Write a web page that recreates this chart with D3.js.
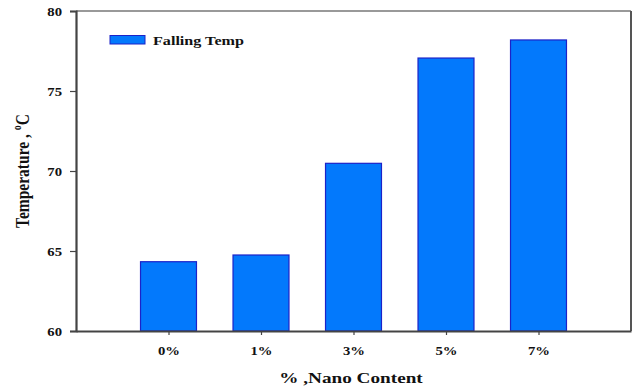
<!DOCTYPE html>
<html>
<head>
<meta charset="utf-8">
<script src="https://cdn.jsdelivr.net/npm/d3@7"></script>
<style>
  html, body { margin: 0; padding: 0; background: #fff; }
  svg { display: block; }
  text { font-family: "Liberation Serif", "Times New Roman", serif; font-weight: bold; fill: #111; }
</style>
</head>
<body>
<svg id="chart" width="634" height="391"></svg>
<script>
// Falling temperature by nano content
const categories = ["0%", "1%", "3%", "5%", "7%"];
const fallingTemp = [64.33, 64.75, 70.48, 77.06, 78.19];
const yTicks = [60, 65, 70, 75, 80];
const seriesName = "Falling Temp";

const W = 634, H = 391;
const margin = { left: 76, right: 3, top: 11, bottom: 60 };
const x0 = margin.left, x1 = W - margin.right;
const y0 = H - margin.bottom, y1 = margin.top;
const SX = 1.28; // horizontal stretch of the lettering

const svg = d3.select("#chart");

// category positions: one slot of padding on each side
const x = d3.scaleLinear().domain([0, categories.length + 1]).range([x0, x1]);
const slot = (x1 - x0) / (categories.length + 1);
const barW = slot * 0.605;
const y = d3.scaleLinear().domain([60, 80]).range([y0, y1]);

// frame: top and right in gray
svg.append("line").attr("x1", x0).attr("x2", x1).attr("y1", y1).attr("y2", y1)
  .attr("stroke", "#777").attr("stroke-width", 1.5);
svg.append("line").attr("x1", x1).attr("x2", x1).attr("y1", y1).attr("y2", y0)
  .attr("stroke", "#555").attr("stroke-width", 2);

// bars
svg.append("g").selectAll("rect").data(fallingTemp).join("rect")
  .attr("x", (d, i) => x(i + 1) - barW / 2)
  .attr("width", barW)
  .attr("y", d => y(d))
  .attr("height", d => y(60) - y(d))
  .attr("fill", "#0379fc")
  .attr("stroke", "#1c22c8")
  .attr("stroke-width", 1.2);

// y axis
const yAxis = d3.axisLeft(y).tickValues(yTicks).tickSize(6).tickFormat(d3.format("d"));
const gy = svg.append("g").attr("transform", `translate(${x0},0)`).call(yAxis);
gy.select(".domain").attr("stroke", "#444").attr("stroke-width", 2.2);
gy.selectAll(".tick line").attr("stroke", "#444").attr("stroke-width", 1.2);
gy.selectAll(".tick text")
  .style("font-size", "11.5px").attr("fill", "#111")
  .attr("x", -14 / SX).attr("dy", "0.36em")
  .attr("transform", `scale(${SX},1)`);

// x axis
const xAxis = d3.axisBottom(x)
  .tickValues(categories.map((c, i) => i + 1))
  .tickFormat((d) => categories[d - 1])
  .tickSize(4).tickSizeOuter(0);
const gx = svg.append("g").attr("transform", `translate(0,${y0})`).call(xAxis);
gx.select(".domain").attr("stroke", "#444").attr("stroke-width", 2.2);
gx.selectAll(".tick line").attr("stroke", "#444").attr("stroke-width", 1.2);
gx.selectAll(".tick text")
  .style("font-size", "11.5px").attr("fill", "#111")
  .attr("y", 24).attr("dy", 0)
  .attr("transform", `scale(${SX},1)`);

// axis titles
svg.append("text")
  .attr("transform", `translate(351,383) scale(${SX},1)`)
  .attr("text-anchor", "middle").style("font-size", "15px")
  .text("% ,Nano Content");

const yt = svg.append("text")
  .attr("transform", `translate(29,${(y0 + y1) / 2}) rotate(-90) scale(1,${SX})`)
  .attr("text-anchor", "middle").style("font-size", "15.5px");
yt.append("tspan").text("Temperature , ");
yt.append("tspan").attr("dy", -6).style("font-size", "10px").text("o");
yt.append("tspan").attr("dy", 6).text("C");

// legend
svg.append("rect").attr("x", 110).attr("y", 35.5).attr("width", 35).attr("height", 8.5)
  .attr("fill", "#0379fc").attr("stroke", "#1c22c8").attr("stroke-width", 1);
svg.append("text")
  .attr("transform", `translate(153,45) scale(${SX},1)`)
  .style("font-size", "12.6px").text(seriesName);
</script>
</body>
</html>
